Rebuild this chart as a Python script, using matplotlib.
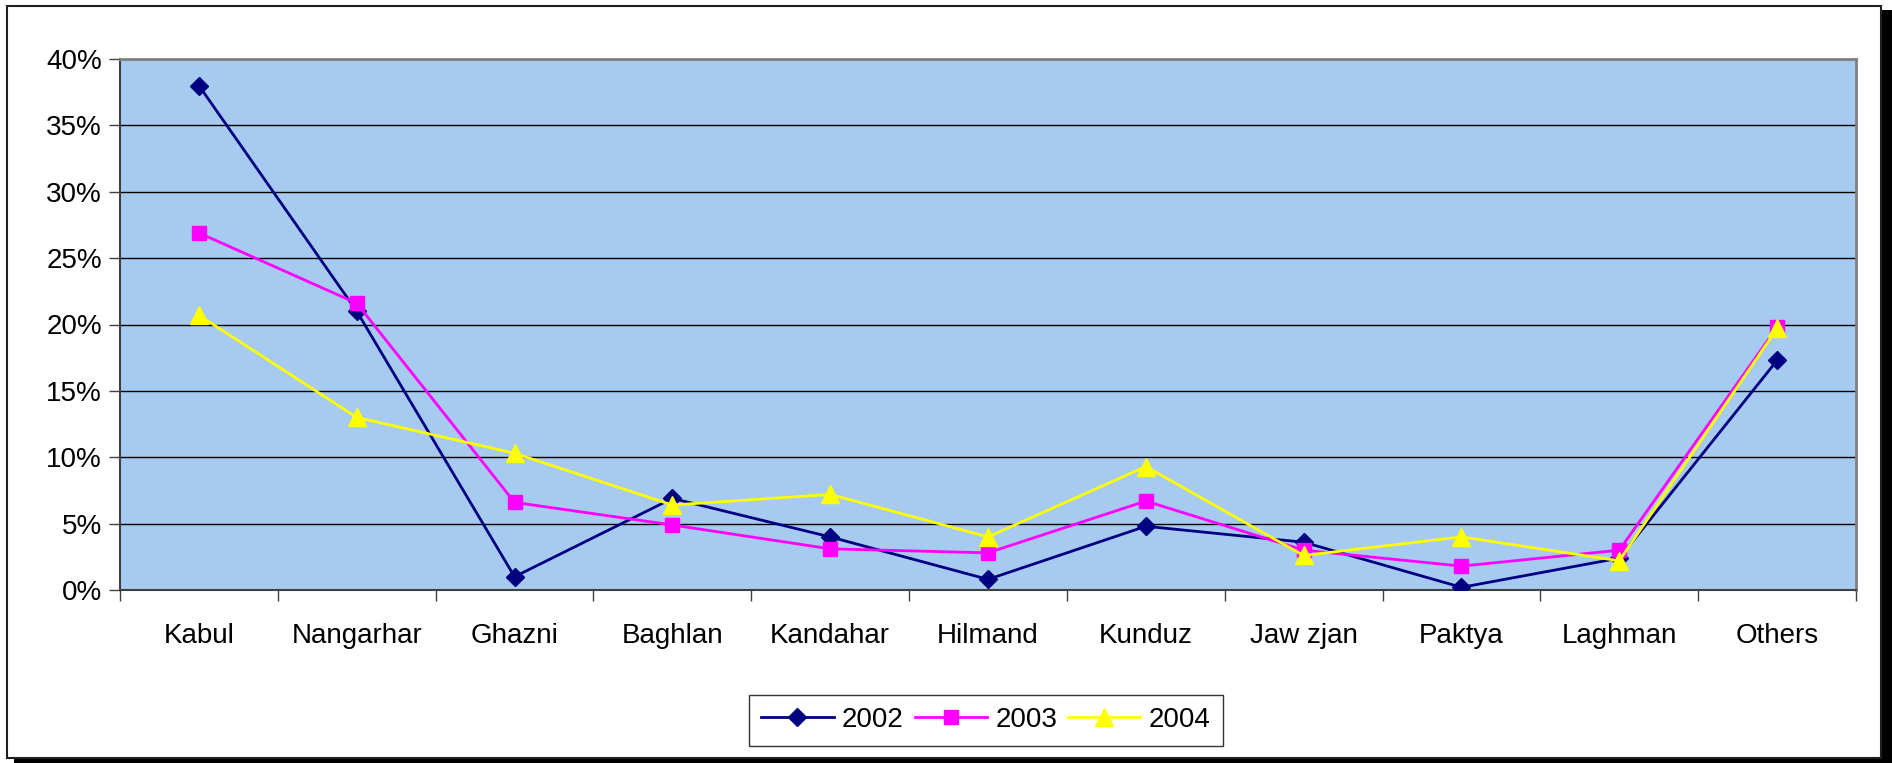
import matplotlib.pyplot as plt
from matplotlib.patches import Rectangle
from matplotlib.ticker import FuncFormatter, FixedLocator

plt.rcParams['font.family'] = ['Liberation Sans', 'DejaVu Sans']

provinces = ['Kabul', 'Nangarhar', 'Ghazni', 'Baghlan', 'Kandahar', 'Hilmand',
             'Kunduz', 'Jaw zjan', 'Paktya', 'Laghman', 'Others']
y2002 = [38.0, 21.0, 1.0, 6.9, 4.0, 0.8, 4.8, 3.6, 0.2, 2.4, 17.3]
y2003 = [26.9, 21.6, 6.6, 4.9, 3.1, 2.8, 6.7, 3.0, 1.8, 3.0, 19.8]
y2004 = [20.7, 13.0, 10.3, 6.4, 7.2, 4.0, 9.3, 2.6, 4.0, 2.2, 19.7]

W, H = 1892, 763
fig = plt.figure(figsize=(W / 100, H / 100), dpi=100)

# frame with shadow
fig.patches.append(Rectangle((14 / W, 1 - 763 / H), 1878 / W, 753 / H,
                             transform=fig.transFigure, facecolor='black',
                             edgecolor='none', zorder=-2))
fig.patches.append(Rectangle((7 / W, 1 - 758 / H), 1874 / W, 752 / H,
                             transform=fig.transFigure, facecolor='white',
                             edgecolor='#202020', linewidth=1.5, zorder=-1))

ax = fig.add_axes([120 / W, 1 - 590 / H, (1856 - 120) / W, (590 - 59) / H])
ax.set_facecolor('#A6CAF0')

x = list(range(len(provinces)))
ax.plot(x, y2002, color='#000080', marker='D', markersize=9, linewidth=2,
        label='2002', zorder=3)
ax.plot(x, y2003, color='#FF00FF', marker='s', markersize=10, linewidth=2,
        label='2003', zorder=4)
ax.plot(x, y2004, color='#FFFF00', marker='^', markersize=13, linewidth=2,
        label='2004', zorder=5)

ax.set_xlim(-0.5, len(provinces) - 0.5)
ax.set_ylim(0, 40)
ax.set_yticks(range(0, 41, 5))
ax.yaxis.set_major_formatter(FuncFormatter(lambda v, p: f'{int(v)}%'))
ax.grid(axis='y', color='black', linewidth=1)
ax.set_axisbelow(True)

ax.set_xticks(x)
ax.set_xticklabels(provinces)
ax.xaxis.set_minor_locator(FixedLocator([i - 0.5 for i in range(len(provinces) + 1)]))
ax.tick_params(axis='x', which='major', length=0, pad=24, labelsize=20)
ax.tick_params(axis='x', which='minor', length=8, width=1, color='#404040')
ax.tick_params(axis='y', length=8, width=1, color='#404040', labelsize=20, pad=5)

for side in ['top', 'right']:
    ax.spines[side].set_color('#808080')
    ax.spines[side].set_linewidth(2)
for side in ['left', 'bottom']:
    ax.spines[side].set_color('#404040')
    ax.spines[side].set_linewidth(1.5)

leg = fig.legend(loc='center', bbox_to_anchor=((742 + 1230) / 2 / W, 1 - 720 / H),
                 ncol=3, fontsize=20, frameon=True, fancybox=False,
                 handlelength=2.6, columnspacing=0.4, handletextpad=0.3,
                 borderpad=0.45)
leg.get_frame().set_edgecolor('black')
leg.get_frame().set_linewidth(1)

fig.savefig('out.png', dpi=100)
